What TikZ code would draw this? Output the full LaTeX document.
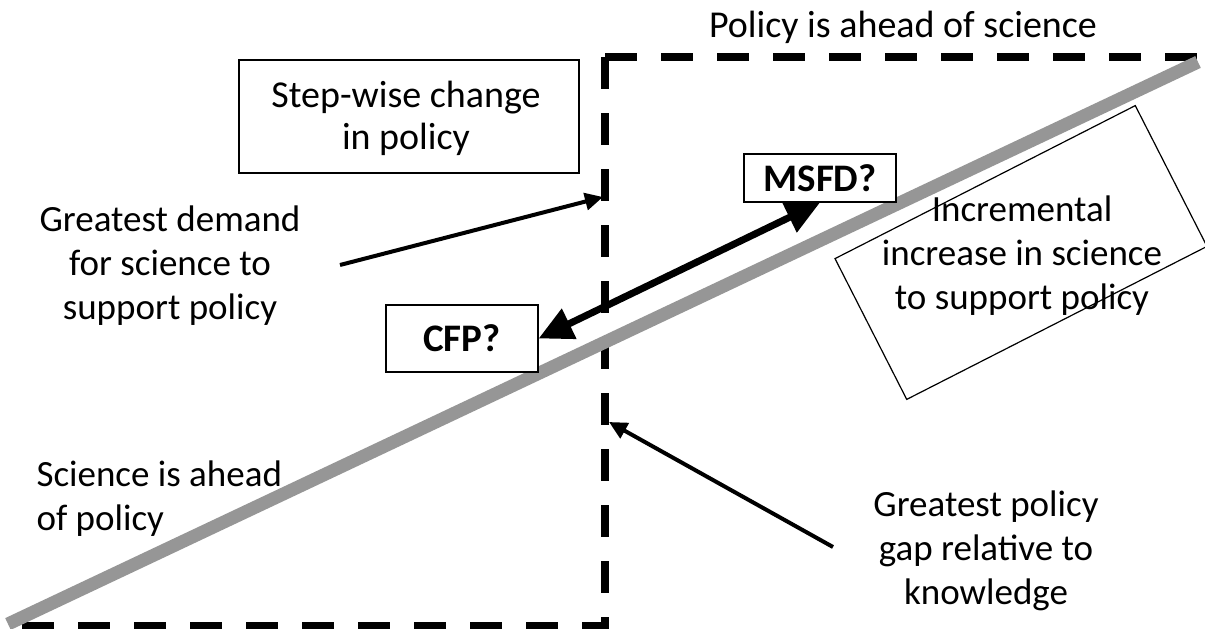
\documentclass[tikz,border=0pt]{standalone}
\usepackage{fontspec}
\setmainfont{Carlito}
\usepackage{xcolor}
\usepackage{tikz}
\usetikzlibrary{arrows.meta, positioning, shapes.geometric, fit}

\definecolor{trendgray}{RGB}{150,150,150}

\begin{document}
\begin{tikzpicture}[x=1pt, y=-1pt,
  lbl/.style={align=center, font=\fontsize{37}{44}\selectfont},
  tag/.style={draw, line width=1.2pt, fill=white, inner sep=0pt, align=center},
  boldtag/.style={tag, font=\fontsize{39}{44}\selectfont\bfseries},
  thinarrow/.style={-{Triangle[length=18pt, width=17pt]}, line width=4pt},
  bigarrow/.style={{Triangle[length=34pt, width=32pt]}-{Triangle[length=34pt, width=32pt]}, line width=7pt},
  divider/.style={line width=7.5pt, dash pattern=on 32pt off 24pt}]
  \useasboundingbox (0,0) rectangle (1205,629);

  % dashed frame
  \coordinate (corner) at (605,57);
  \coordinate (topend) at (1205,57);
  \coordinate (lowcorner) at (605,626);
  \coordinate (botend) at (0,626);
  \draw[divider] (corner) -- (topend);
  \draw[divider] (corner) -- (lowcorner) -- (botend);

  % science line
  \coordinate (sLow) at (8,624);
  \coordinate (sHigh) at (1198,62);
  \draw[line width=13pt, trendgray] (sLow) -- (sHigh);

  \node[lbl, font=\fontsize{38}{44}\selectfont] (ahead) at (903,27) {Policy is ahead of science};
  \node[tag, minimum width=340pt, minimum height=113pt] (step) at (409,116.5) {};
  \node[lbl, font=\fontsize{38}{42}\selectfont] (steptxt) at (406,118) {Step-wise change\\in policy};
  \node[boldtag, minimum width=152pt, minimum height=48pt] (msfd) at (820,178) {MSFD?};
  \node[boldtag, minimum width=152pt, minimum height=67pt] (cfp) at (462,338.5) {CFP?};

  \node[lbl] (demand) at (170,266) {Greatest demand\\for science to\\support policy};
  \node[lbl, align=left, anchor=west] (sci) at (33,499) {Science is ahead\\of policy};
  \node[lbl] (gap) at (986,551) {Greatest policy\\gap relative to\\knowledge};

  \node[draw, line width=1.2pt, minimum width=337pt, minimum height=158pt, rotate=27] (incbox) at (1021,252.5) {};
  \node[lbl] (inc) at (1022,256) {Incremental\\increase in science\\to support policy};

  % arrows
  \coordinate (dTail) at (340,265);
  \coordinate (dTip) at (603,197);
  \draw[thinarrow] (dTail) -- (dTip);
  \coordinate (gTail) at (833,547);
  \coordinate (gTip) at (609,422);
  \draw[thinarrow] (gTail) -- (gTip);
  \draw[bigarrow] (cfp.east) -- (msfd.south);
\end{tikzpicture}
\end{document}
